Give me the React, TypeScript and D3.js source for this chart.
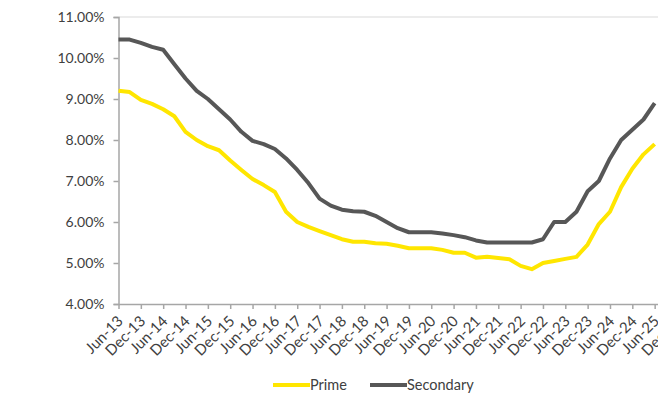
import {useEffect, useRef} from "react";
import * as d3 from 'd3'

// quarterly observations, Jun-13 .. Jun-25
const quarters = [
    "Jun-13","Sep-13","Dec-13","Mar-14","Jun-14","Sep-14","Dec-14","Mar-15","Jun-15","Sep-15",
    "Dec-15","Mar-16","Jun-16","Sep-16","Dec-16","Mar-17","Jun-17","Sep-17","Dec-17","Mar-18",
    "Jun-18","Sep-18","Dec-18","Mar-19","Jun-19","Sep-19","Dec-19","Mar-20","Jun-20","Sep-20",
    "Dec-20","Mar-21","Jun-21","Sep-21","Dec-21","Mar-22","Jun-22","Sep-22","Dec-22","Mar-23",
    "Jun-23","Sep-23","Dec-23","Mar-24","Jun-24","Sep-24","Dec-24","Mar-25","Jun-25"
]

const prime = [
    9.2, 9.17, 8.98, 8.88, 8.75, 8.58, 8.2, 8.0, 7.85, 7.75,
    7.5, 7.27, 7.05, 6.9, 6.73, 6.25, 6.0, 5.88, 5.78, 5.68,
    5.58, 5.52, 5.52, 5.48, 5.47, 5.42, 5.36, 5.36, 5.36, 5.32,
    5.25, 5.25, 5.13, 5.15, 5.12, 5.09, 4.93, 4.85, 5.0, 5.05,
    5.1, 5.15, 5.45, 5.95, 6.25, 6.85, 7.3, 7.65, 7.9
]

const secondary = [
    10.45, 10.45, 10.37, 10.27, 10.2, 9.85, 9.5, 9.2, 9.0, 8.75,
    8.5, 8.2, 7.98, 7.9, 7.78, 7.55, 7.27, 6.95, 6.57, 6.4,
    6.3, 6.26, 6.25, 6.15, 6.0, 5.85, 5.75, 5.75, 5.75, 5.72,
    5.68, 5.63, 5.55, 5.5, 5.5, 5.5, 5.5, 5.5, 5.58, 6.0,
    6.0, 6.25, 6.75, 7.0, 7.55, 8.0, 8.25, 8.5, 8.9
]

// half-year axis labels (Dec-25 falls past the right edge)
const tickLabels = [
    "Jun-13","Dec-13","Jun-14","Dec-14","Jun-15","Dec-15","Jun-16","Dec-16","Jun-17",
    "Dec-17","Jun-18","Dec-18","Jun-19","Dec-19","Jun-20","Dec-20","Jun-21","Dec-21",
    "Jun-22","Dec-22","Jun-23","Dec-23","Jun-24","Dec-24","Jun-25","Dec-25"
]
const yTicks = [4, 5, 6, 7, 8, 9, 10, 11]

const series = [
    {name: "Prime", values: prime, color: "#ffe600"},
    {name: "Secondary", values: secondary, color: "#575757"},
]

const W = 658, H = 395
const FONT = "Lato, 'Open Sans', sans-serif"

const App = () => {
    const svgRef = useRef<SVGSVGElement>(null)

    useEffect(() => {
        const svg = d3.select(svgRef.current)
        svg.selectAll("*").remove()

        const left = 118.5, top = 17, bottom = 304
        const step = 11.17 // one quarter
        const x = d3.scaleLinear().domain([0, 50]).range([left, left + 50 * step])
        const y = d3.scaleLinear().domain([4, 11]).range([bottom, top])

        // top border line
        svg.append("line")
            .attr("x1", left).attr("x2", W + 40)
            .attr("y1", y(11)).attr("y2", y(11))
            .attr("stroke", "#d9d9d9").attr("stroke-width", 1)

        // y axis
        const yAxis = d3.axisLeft(y)
            .tickValues(yTicks)
            .tickSize(5)
            .tickPadding(9)
            .tickFormat(d => (d as number).toFixed(2) + "%")
        const gy = svg.append("g").attr("transform", `translate(${left},0)`).call(yAxis)
        gy.select(".domain").attr("stroke", "#a6a6a6").attr("stroke-width", 1.5)
        gy.selectAll(".tick line").attr("stroke", "#a6a6a6").attr("stroke-width", 1.5)
        gy.selectAll(".tick text")
            .attr("fill", "#404040").attr("font-family", FONT).attr("font-size", 14)

        // x axis, one tick every two quarters
        const xAxis = d3.axisBottom(x)
            .tickValues(tickLabels.map((_, i) => i * 2))
            .tickSize(5)
            .tickSizeOuter(0)
            .tickFormat((_, i) => tickLabels[i])
        const gx = svg.append("g").attr("transform", `translate(0,${bottom})`).call(xAxis)
        gx.select(".domain").attr("stroke", "#a6a6a6").attr("stroke-width", 1.5)
        gx.selectAll(".tick line").attr("stroke", "#a6a6a6").attr("stroke-width", 1.5)
        gx.selectAll(".tick text")
            .attr("fill", "#404040").attr("font-family", FONT).attr("font-size", 15)
            .attr("text-anchor", "end")
            .attr("dy", 0)
            .attr("y", 0)
            .attr("transform", "translate(5,18) rotate(-45)")

        // lines
        const line = d3.line<number>()
            .x((_, i) => x(i))
            .y(d => y(d))
        svg.selectAll("path.series")
            .data(series)
            .join("path")
            .attr("class", "series")
            .attr("d", d => line(d.values))
            .attr("fill", "none")
            .attr("stroke", d => d.color)
            .attr("stroke-width", 4)
            .attr("stroke-linejoin", "round")

        // legend
        const legendX = [273, 370]
        const lg = svg.append("g")
        series.forEach((s, i) => {
            lg.append("line")
                .attr("x1", legendX[i]).attr("x2", legendX[i] + 37)
                .attr("y1", 385).attr("y2", 385)
                .attr("stroke", s.color).attr("stroke-width", 4)
            lg.append("text")
                .attr("x", legendX[i] + 37).attr("y", 390)
                .attr("fill", "#404040").attr("font-family", FONT).attr("font-size", 14.5)
                .text(s.name)
        })
    }, [])

    return (
        <svg ref={svgRef} width={W} height={H}
             style={{position: "absolute", left: 0, top: 0, background: "#fff", overflow: "hidden"}}/>
    )
}

export default App
